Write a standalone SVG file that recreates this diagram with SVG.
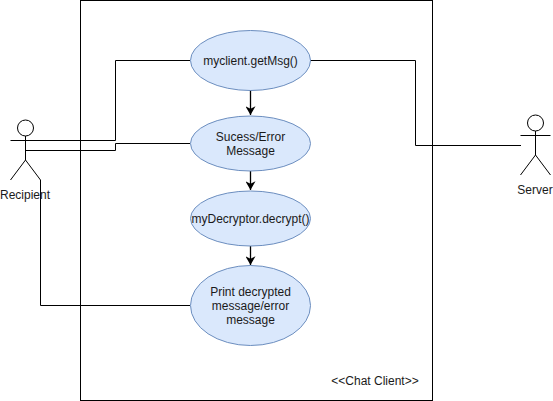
<svg xmlns="http://www.w3.org/2000/svg" width="553" height="401" viewBox="0 0 553 401">
<defs>
<style>
text{font-family:"Liberation Sans",Arial,sans-serif;font-size:12px;fill:#1a1a1a;text-anchor:middle}
.uc{fill:#dae8fc;stroke:#6c8ebf;stroke-width:1}
.ln{fill:none;stroke:#000;stroke-width:1}
.ar{fill:none;stroke:#000;stroke-width:1.3}
</style>
<marker id="arrow" markerUnits="userSpaceOnUse" markerWidth="10" markerHeight="10" refX="7" refY="4" orient="auto" viewBox="0 0 8 8"><path d="M0 0L7 4L0 8L2 4Z" fill="#000"/></marker>
</defs>
<rect width="553" height="401" fill="#fff"/>
<g id="system"><rect class="ln" x="80.5" y="0.5" width="352" height="400"/><text x="375" y="385">&lt;&lt;Chat Client&gt;&gt;</text></g>
<g id="connectors">
<path class="ln" d="M25 140.500H115.500V60.500H190"/>
<path class="ln" d="M25 150.500H115.500V143.500H190"/>
<path class="ln" d="M40.500 180V305.500H190"/>
<path class="ln" d="M310 60.500H415.500V145.500H521"/>
<path class="ar" d="M250.500 90V115" marker-end="url(#arrow)"/>
<path class="ar" d="M250.500 171V190" marker-end="url(#arrow)"/>
<path class="ar" d="M250.500 246V265" marker-end="url(#arrow)"/>
</g>
<g id="recipient"><circle class="ln" cx="25.500" cy="128" r="8"/><path class="ln" d="M25.500 136V160M10.500 140.500H40.500M25.500 160L10.500 180M25.500 160L40.500 180"/><text x="25" y="199">Recipient</text></g>
<g id="server"><circle class="ln" cx="535.500" cy="123" r="8"/><path class="ln" d="M535.500 131V155M520.500 135.500H550.500M535.500 155L520.500 175M535.500 155L550.500 175"/><text x="535" y="194">Server</text></g>
<g id="getmsg"><ellipse class="uc" cx="250.500" cy="60.500" rx="60" ry="30"/><text x="250.500" y="65">myclient.getMsg()</text></g>
<g id="status"><ellipse class="uc" cx="250.500" cy="143.500" rx="60" ry="27.500"/><text x="250.500" y="141">Sucess/Error</text><text x="250.500" y="155">Message</text></g>
<g id="decrypt"><ellipse class="uc" cx="250.500" cy="218.500" rx="60" ry="27.500"/><text x="250.500" y="223">myDecryptor.decrypt()</text></g>
<g id="print"><ellipse class="uc" cx="250.500" cy="305.500" rx="60" ry="40"/><text x="250.500" y="296">Print decrypted</text><text x="250.500" y="310">message/error</text><text x="250.500" y="324">message</text></g>
</svg>
